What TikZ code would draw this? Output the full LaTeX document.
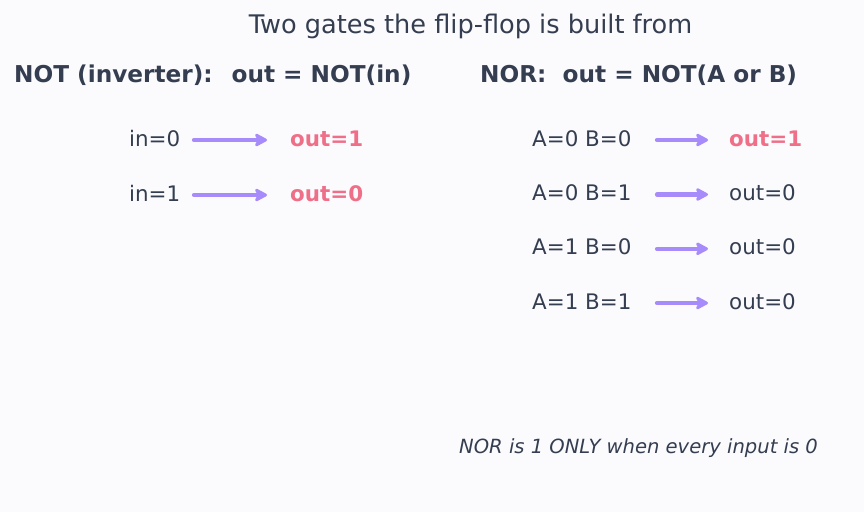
\documentclass[tikz,border=0pt]{standalone}
\usepackage{fontspec}
\setmainfont{DejaVu Sans}
\usetikzlibrary{arrows.meta}
\definecolor{inkslate}{HTML}{343E50}
\definecolor{hotpink}{HTML}{EF6F88}
\definecolor{wirevio}{HTML}{A78BFA}
\definecolor{paper}{HTML}{FBFBFE}
\tikzset{
	plain/.style={inner sep=0pt,text=inkslate,font=\fontsize{21.4}{25}\selectfont,anchor=base west},
	hot/.style={plain,text=hotpink,font=\fontsize{21.4}{25}\selectfont\bfseries},
	headtxt/.style={inner sep=0pt,text=inkslate,font=\fontsize{23.2}{28}\selectfont\bfseries,anchor=base west},
	wire/.style={-{Stealth[length=15pt,width=16pt,inset=4pt,round]},line width=4.2pt,line cap=round,draw=wirevio}
}

\begin{document}
\begin{tikzpicture}[x=1pt,y=-1pt]
	\fill[paper] (0,0) rectangle (864,512);
	\useasboundingbox (0,0) rectangle (864,512);
	\node[inner sep=0pt,text=inkslate,font=\fontsize{25.6}{30}\selectfont,anchor=base] (title) at (470.5,33) {Two gates the flip-flop is built from};
	\node[headtxt] (nothead) at (14,82) {NOT (inverter):~ out = NOT(in)};
	\node[headtxt] (norhead) at (480,82) {NOR:~ out = NOT(A or B)};
	% inverter table
	\foreach \v/\o/\y in {0/1/146,1/0/201} {
		\node[plain] (notin\v) at (129,\y) {in=\v};
		\node[hot] (notout\v) at (290,\y) {out=\o};
		\coordinate (nots\v) at (194,\y-6);
		\coordinate (note\v) at (267,\y-6);
		\draw[wire] (nots\v) -- (note\v);
	}
	% nor table
	\foreach \a/\b/\o/\s/\y [count=\r] in {0/0/1/hot/146,0/1/0/plain/200.5,1/0/0/plain/254.8,1/1/0/plain/309} {
		\node[plain] (norin\r) at (532,\y) {A=\a{} B=\b};
		\node[\s] (norout\r) at (729,\y) {out=\o};
		\coordinate (nors\r) at (657,\y-6);
		\coordinate (nore\r) at (708,\y-6);
		\draw[wire] (nors\r) -- (nore\r);
	}
	\node[inner sep=0pt,text=inkslate,font=\fontsize{19.55}{23}\selectfont\itshape,anchor=base west] (rule) at (459,453) {NOR is 1 ONLY when every input is 0};
\end{tikzpicture}
\end{document}
